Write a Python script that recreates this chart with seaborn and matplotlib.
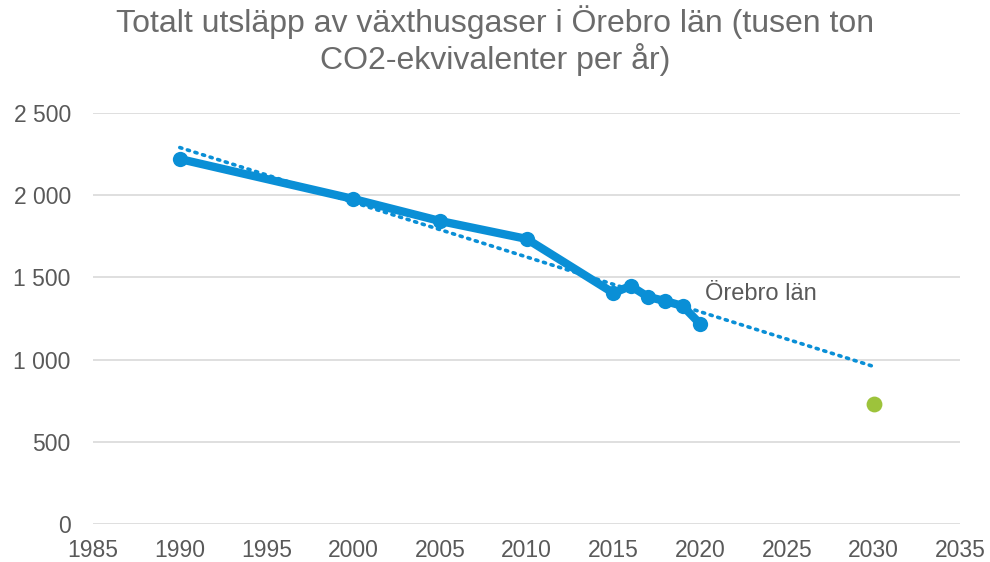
import numpy as np
import pandas as pd
import matplotlib
matplotlib.use('Agg')
import matplotlib.pyplot as plt
import seaborn as sns

years = [1990, 2000, 2005, 2010, 2015, 2016, 2017, 2018, 2019, 2020]
utslapp = [2220, 1977, 1843, 1734, 1405, 1448, 1381, 1356, 1326, 1217]
mal_ar = [2030]
mal_varde = [730]
yticks = [0, 500, 1000, 1500, 2000, 2500]
xticks = list(range(1985, 2040, 5))

blue = '#0A8FD6'
green = '#9DC33B'
grey = '#595959'

sns.set_style('white')
plt.rcParams['font.family'] = ['Liberation Sans', 'DejaVu Sans']

df = pd.DataFrame({'year': years, 'value': utslapp})

fig = plt.figure(figsize=(9.9, 5.62), dpi=100)
ax = fig.add_axes([0.094, 0.0676, 0.876, 0.7314])

# linear trend, forecast to 2030
k, m = np.polyfit(years, utslapp, 1)
trend_x = np.array([years[0], 2030])
ax.plot(trend_x, k * trend_x + m, color=blue, lw=2.6, linestyle=(0, (0.6, 1.6)),
        dash_capstyle='round', zorder=2)

sns.lineplot(data=df, x='year', y='value', ax=ax, color=blue, lw=6,
             marker='o', markersize=11, markeredgewidth=0, zorder=3)
sns.scatterplot(x=mal_ar, y=mal_varde, ax=ax, color=green, s=130, linewidth=0, zorder=3)

ax.text(2020.3, 1362, 'Örebro län', fontsize=17, color=grey, ha='left', va='baseline')

ax.set_xlim(1985, 2035)
ax.set_ylim(0, 2500)
ax.set_xticks(xticks)
ax.set_yticks(yticks)
ax.set_yticklabels([f'{v:,}'.replace(',', ' ') for v in yticks])
ax.tick_params(axis='both', length=0, labelsize=16.5, labelcolor=grey)
ax.tick_params(axis='y', pad=16)
ax.tick_params(axis='x', pad=11)
ax.grid(axis='y', color='#D9D9D9', lw=1.2)
ax.set_axisbelow(True)
for s in ax.spines.values():
    s.set_visible(False)
ax.set_xlabel('')
ax.set_ylabel('')

fig.suptitle('Totalt utsläpp av växthusgaser i Örebro län (tusen ton\nCO2-ekvivalenter per år)',
             fontsize=23, color='#6B6B6B', y=0.99, linespacing=1.12)

fig.savefig('out.png', dpi=100)
